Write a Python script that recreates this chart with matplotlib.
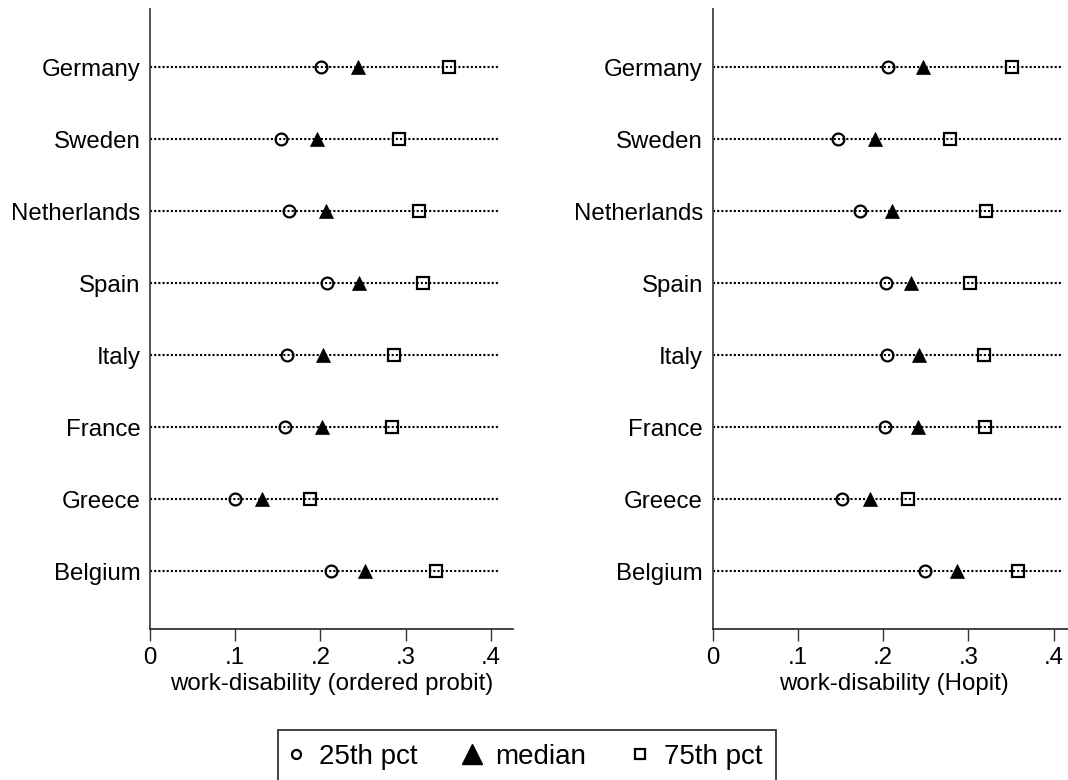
import matplotlib
matplotlib.use("Agg")
import matplotlib.pyplot as plt
from matplotlib.lines import Line2D

plt.rcParams['font.family'] = ['Liberation Sans', 'DejaVu Sans']

countries = ["Germany", "Sweden", "Netherlands", "Spain", "Italy", "France", "Greece", "Belgium"]

# ordered probit
op_p25 = [0.201, 0.154, 0.163, 0.208, 0.161, 0.158, 0.100, 0.212]
op_med = [0.244, 0.196, 0.206, 0.245, 0.203, 0.202, 0.131, 0.252]
op_p75 = [0.351, 0.292, 0.316, 0.321, 0.286, 0.284, 0.188, 0.336]

# Hopit
hp_p25 = [0.206, 0.147, 0.173, 0.203, 0.205, 0.202, 0.152, 0.249]
hp_med = [0.247, 0.190, 0.211, 0.233, 0.242, 0.241, 0.185, 0.287]
hp_p75 = [0.351, 0.279, 0.321, 0.302, 0.319, 0.320, 0.229, 0.358]

xticks = [0, 0.1, 0.2, 0.3, 0.4]
xticklabels = ["0", ".1", ".2", ".3", ".4"]
xlabels = ["work-disability (ordered probit)", "work-disability (Hopit)"]

W, H = 1068, 780
fig = plt.figure(figsize=(W / 100, H / 100), dpi=100)

axw = 362.7 / W
bottom = 1 - 629 / H
top = 1 - 9.5 / H
lefts = [150 / W, 712.7 / W]

FS = 17.3
panels = [(op_p25, op_med, op_p75), (hp_p25, hp_med, hp_p75)]
ypos = list(range(1, len(countries) + 1))

for i, (p25, med, p75) in enumerate(panels):
    ax = fig.add_axes([lefts[i], bottom, axw, top - bottom])
    ax.hlines(ypos, 0, 0.411, colors='black', linestyles=(0, (1, 1)), linewidth=1.5, zorder=1)
    ax.plot(p25, ypos, linestyle='none', marker='o', markersize=8.5, markerfacecolor='none',
            markeredgecolor='black', markeredgewidth=1.6, zorder=3)
    ax.plot(med, ypos, linestyle='none', marker='^', markersize=10, markerfacecolor='black',
            markeredgecolor='black', markeredgewidth=0.5, zorder=3)
    ax.plot(p75, ypos, linestyle='none', marker='s', markersize=8.3, markerfacecolor='none',
            markeredgecolor='black', markeredgewidth=1.6, zorder=3)
    ax.set_xlim(0, 0.4257)
    ax.set_ylim(8.8, 0.2)
    ax.set_xticks(xticks)
    ax.set_xticklabels(xticklabels, fontsize=FS)
    ax.set_yticks(ypos)
    ax.set_yticklabels(countries, fontsize=FS)
    ax.tick_params(axis='y', length=0, pad=7)
    ax.tick_params(axis='x', length=8.5, width=1, direction='out', pad=4.5, color='#333333')
    for s in ['top', 'right']:
        ax.spines[s].set_visible(False)
    ax.spines['left'].set_color('#444444')
    ax.spines['left'].set_linewidth(1.3)
    ax.spines['bottom'].set_color('#222222')
    ax.spines['bottom'].set_linewidth(1.2)
    ax.set_xlabel(xlabels[i], fontsize=FS, labelpad=3)
    ax.patch.set_visible(False)

handles = [
    Line2D([], [], linestyle='none', marker='o', markersize=6.5, markerfacecolor='white',
           markeredgecolor='black', markeredgewidth=1.6),
    Line2D([], [], linestyle='none', marker='^', markersize=14, markerfacecolor='black',
           markeredgecolor='black'),
    Line2D([], [], linestyle='none', marker='s', markersize=6.5, markerfacecolor='white',
           markeredgecolor='black', markeredgewidth=1.6),
]
leg = fig.legend(handles, ["25th pct", "median", "75th pct"], loc='center',
                 bbox_to_anchor=(527 / W, 1 - 757 / H), ncol=3, fontsize=20,
                 frameon=True, fancybox=False, handlelength=0.3, handletextpad=0.7,
                 columnspacing=1.8, borderpad=0.5, borderaxespad=0)
leg.get_frame().set_edgecolor('black')
leg.get_frame().set_linewidth(1.3)

fig.savefig("out.png", dpi=100)
